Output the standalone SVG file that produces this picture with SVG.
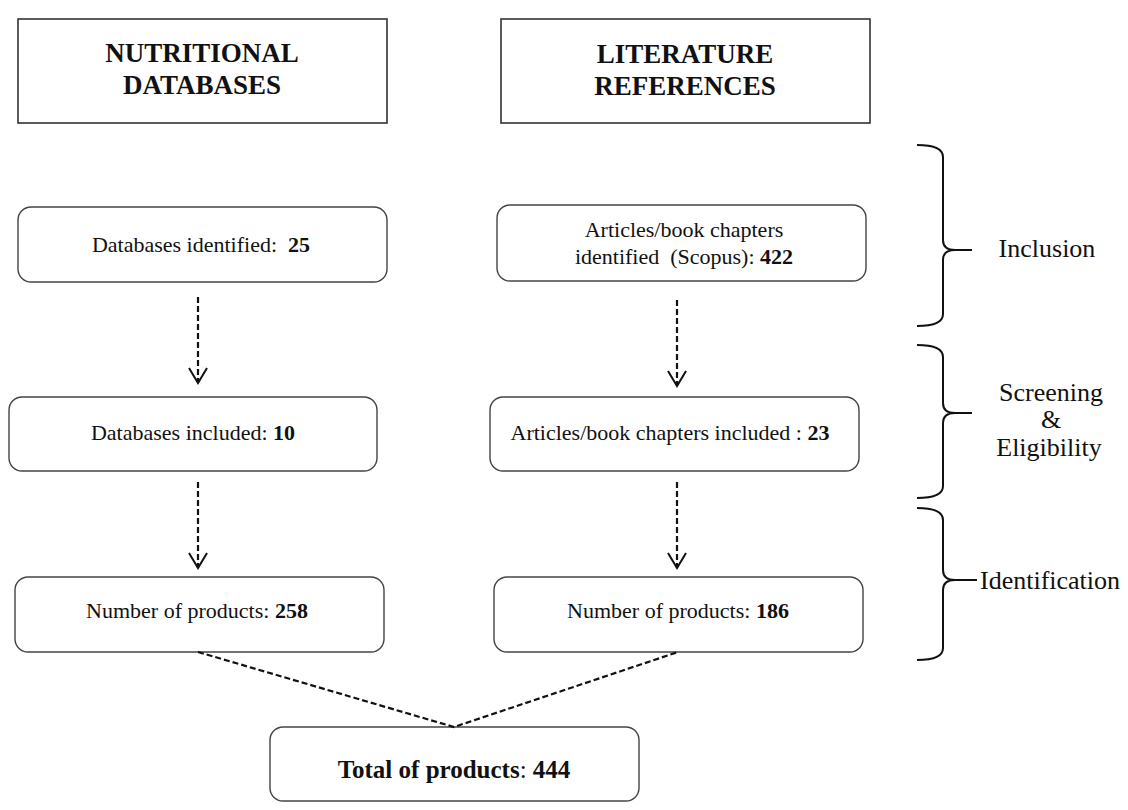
<svg xmlns="http://www.w3.org/2000/svg" width="1128" height="810" viewBox="0 0 1128 810">
<style>
.hdr{fill:#fff;stroke:#333;stroke-width:1.6}
.box{fill:#fff;stroke:#444;stroke-width:1.4}
.ht{font-family:"Liberation Serif","Times New Roman",serif;font-weight:bold;font-size:27px;fill:#111;text-anchor:middle}
.bt{font-family:"Liberation Serif","Times New Roman",serif;font-size:22px;fill:#111;text-anchor:middle}
.st{font-family:"Liberation Serif","Times New Roman",serif;font-size:26px;fill:#111;text-anchor:middle}
.b{font-weight:bold}
.dash{fill:none;stroke:#111;stroke-width:2.2;stroke-dasharray:6 3}
.brace{fill:none;stroke:#111;stroke-width:2}
</style>
<defs>
<marker id="arr" markerWidth="20" markerHeight="20" refX="17" refY="10" orient="auto" markerUnits="userSpaceOnUse" viewBox="0 0 20 20">
<path d="M2,1 L17,10 L2,19" fill="none" stroke="#111" stroke-width="2"/>
</marker>
</defs>

<g id="header-nutritional">
<rect class="hdr" x="18" y="19" width="369" height="104"/>
<text class="ht" x="202" y="62">NUTRITIONAL</text>
<text class="ht" x="202" y="94">DATABASES</text>
</g>
<g id="header-literature">
<rect class="hdr" x="501" y="19" width="369" height="104"/>
<text class="ht" x="685" y="63">LITERATURE</text>
<text class="ht" x="685" y="95">REFERENCES</text>
</g>

<g id="db-identified">
<rect class="box" x="18" y="207" width="369" height="75" rx="13"/>
<text class="bt" x="201" y="252" xml:space="preserve">Databases identified:  <tspan class="b">25</tspan></text>
</g>
<g id="art-identified">
<rect class="box" x="497" y="205" width="369" height="76" rx="13"/>
<text class="bt" x="684" y="237">Articles/book chapters</text>
<text class="bt" x="684" y="264" xml:space="preserve">identified  (Scopus): <tspan class="b">422</tspan></text>
</g>

<g id="db-included">
<rect class="box" x="9" y="397" width="368" height="74" rx="13"/>
<text class="bt" x="193" y="440">Databases included: <tspan class="b">10</tspan></text>
</g>
<g id="art-included">
<rect class="box" x="490" y="397" width="369" height="74" rx="13"/>
<text class="bt" x="670" y="440">Articles/book chapters included : <tspan class="b">23</tspan></text>
</g>

<g id="db-products">
<rect class="box" x="15" y="577" width="369" height="75" rx="13"/>
<text class="bt" x="197" y="618">Number of products: <tspan class="b">258</tspan></text>
</g>
<g id="art-products">
<rect class="box" x="494" y="577" width="369" height="75" rx="13"/>
<text class="bt" x="678" y="618">Number of products: <tspan class="b">186</tspan></text>
</g>

<g id="total">
<rect class="box" x="270" y="727" width="369" height="74" rx="13"/>
<text class="bt b" x="454" y="778" style="font-size:25px">Total of products<tspan style="font-weight:normal">:</tspan> 444</text>
</g>

<g id="connectors">
<line class="dash" x1="198" y1="297" x2="198" y2="383" marker-end="url(#arr)"/>
<line class="dash" x1="198" y1="482" x2="198" y2="568" marker-end="url(#arr)"/>
<line class="dash" x1="677" y1="300" x2="677" y2="386" marker-end="url(#arr)"/>
<line class="dash" x1="677" y1="482" x2="677" y2="568" marker-end="url(#arr)"/>
<polyline class="dash" points="198,652 454,727 678,652"/>
</g>

<g id="inclusion">
<path class="brace" d="M917,145 Q943,145 943,157 L943,240 Q943,250 955,250 L972,250 M955,250 Q943,250 943,260 L943,314 Q943,326 917,326"/>
<text class="st" x="1047" y="257">Inclusion</text>
</g>
<g id="screening">
<path class="brace" d="M917,345 Q943,345 943,357 L943,403 Q943,413 955,413 L972,413 M955,413 Q943,413 943,423 L943,486 Q943,498 917,498"/>
<text class="st" x="1051" y="401">Screening</text>
<text class="st" x="1051" y="428">&amp;</text>
<text class="st" x="1049" y="456">Eligibility</text>
</g>
<g id="identification">
<path class="brace" d="M917,508 Q943,508 943,520 L943,570 Q943,580 955,580 L977,580 M955,580 Q943,580 943,590 L943,648 Q943,660 917,660"/>
<text class="st" x="980" y="589" style="text-anchor:start">Identification</text>
</g>
</svg>
